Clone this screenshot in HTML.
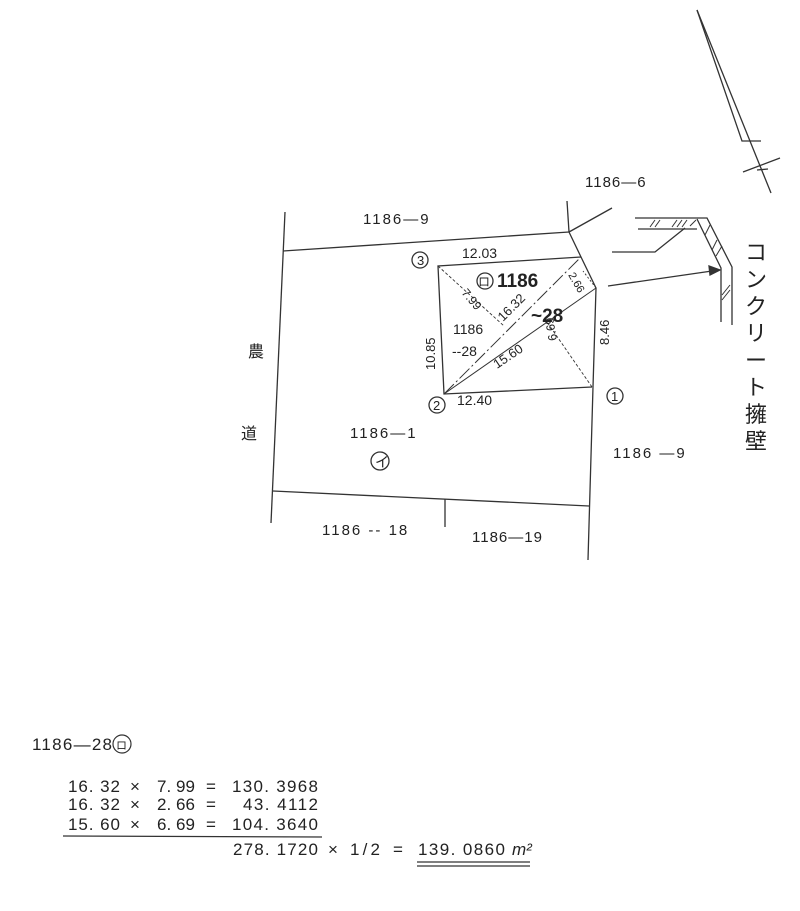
<!DOCTYPE html>
<html><head><meta charset="utf-8"><style>
html,body{margin:0;padding:0;background:#fff;width:800px;height:911px;overflow:hidden}
svg{display:block}
text{font-family:"Liberation Sans","Noto Sans CJK JP",sans-serif;fill:#222}
</style></head><body>
<svg width="800" height="911" viewBox="0 0 800 911" xmlns="http://www.w3.org/2000/svg">
<g stroke="#333" stroke-width="1.3" fill="none">
<line x1="697" y1="10" x2="771" y2="193"/>
<polyline points="697,10 742,141 761,141"/>
<line x1="743" y1="172" x2="780" y2="158"/>
<line x1="757" y1="170" x2="768" y2="169"/>
<line x1="283" y1="251" x2="569" y2="232"/>
<line x1="567" y1="201" x2="569" y2="232"/>
<line x1="569" y1="232" x2="612" y2="208"/>
<polyline points="569,232 581,257 596,288 593,387 588,560"/>
<line x1="285" y1="212" x2="271" y2="523"/>
<line x1="273" y1="491" x2="589" y2="506"/>
<line x1="445" y1="499" x2="445" y2="527"/>
<polyline points="581,257 438,266 444,394 592,387"/>
<line x1="444" y1="394" x2="581" y2="257" stroke-dasharray="14,3,2,3" stroke-width="1"/>
<line x1="444" y1="394" x2="596" y2="288" stroke-width="1"/>
<line x1="438" y1="266" x2="504" y2="326" stroke-dasharray="3,2" stroke-width="0.9"/>
<line x1="592" y1="387" x2="547" y2="322" stroke-dasharray="3,2" stroke-width="0.9"/>
<line x1="596" y1="288" x2="583" y2="271" stroke-dasharray="2,2" stroke-width="0.9"/>
<polyline points="635,218 707,218 732,267 732,325"/>
<polyline points="638,229 697,229"/>
<polyline points="697,219 721,268 721,322"/>
<polyline points="612,252 655,252 685,228"/>
<line x1="608" y1="286" x2="712" y2="271"/>
<polygon points="720,270 709,266 710,275" fill="#333"/>
<g stroke-width="1">
<line x1="650" y1="227" x2="655" y2="220"/><line x1="655" y1="227" x2="660" y2="220"/>
<line x1="672" y1="227" x2="677" y2="220"/><line x1="677" y1="227" x2="682" y2="220"/><line x1="682" y1="227" x2="687" y2="220"/>
<line x1="690" y1="226" x2="696" y2="220"/>
<line x1="705" y1="235" x2="710" y2="225"/><line x1="712" y1="250" x2="717" y2="240"/><line x1="716" y1="256" x2="722" y2="246"/>
<line x1="722" y1="295" x2="730" y2="285"/><line x1="722" y1="300" x2="730" y2="290"/>
</g>
<circle cx="420" cy="260" r="8"/>
<circle cx="437" cy="405" r="8"/>
<circle cx="615" cy="396" r="8"/>
<circle cx="485" cy="281" r="8"/>
<circle cx="380" cy="461" r="9"/>
</g>
<g font-size="15">
<text x="363" y="224" letter-spacing="2">1186—9</text>
<text x="585" y="187" letter-spacing="1">1186—6</text>
<text x="350" y="438" letter-spacing="2">1186—1</text>
<text x="322" y="535" letter-spacing="2">1186 -- 18</text>
<text x="472" y="542" letter-spacing="1">1186—19</text>
<text x="613" y="458" letter-spacing="2">1186 —9</text>
<text x="462" y="258" font-size="14">12.03</text>
<text x="457" y="405" font-size="14">12.40</text>
<text x="417" y="265" font-size="13">3</text>
<text x="433" y="410" font-size="13">2</text>
<text x="611" y="401" font-size="13">1</text>
<text x="375" y="467" font-size="14">イ</text>
<text x="478" y="286" font-size="12">ロ</text>
<text x="497" y="287" font-size="19" font-weight="bold" font-family="Liberation Serif">1186</text>
<text x="531" y="322" font-size="19" font-weight="bold" font-family="Liberation Serif">~28</text>
<text x="453" y="334" font-size="14">1186</text>
<text x="452" y="356" font-size="14">--28</text>
<text x="0" y="0" font-size="13" transform="translate(435,370) rotate(-90)">10.85</text>
<text x="0" y="0" font-size="13" transform="translate(609,345) rotate(-90)">8.46</text>
<text x="0" y="0" font-size="13" transform="translate(503,322) rotate(-45)">16.32</text>
<text x="0" y="0" font-size="13" transform="translate(497,369) rotate(-34)">15.60</text>
<text x="0" y="0" font-size="12" transform="translate(461,293) rotate(50)">7.99</text>
<text x="0" y="0" font-size="12" transform="translate(557,340) rotate(-100)">6.69</text>
<text x="0" y="0" font-size="11" transform="translate(568,275) rotate(60)">2.66</text>
<text x="248" y="357" font-size="16">農</text>
<text x="241" y="439" font-size="16">道</text>
</g>
<g font-size="22">
<text x="745" y="260">コ</text>
<text x="745" y="287">ン</text>
<text x="745" y="314">ク</text>
<text x="745" y="341">リ</text>
<text x="745" y="368">ー</text>
<text x="745" y="395">ト</text>
<text x="745" y="422">擁</text>
<text x="745" y="449">壁</text>
</g>
<g font-size="17">
<text x="32" y="750" textLength="80" lengthAdjust="spacing">1186—28</text>
<circle cx="122" cy="744" r="9" fill="none" stroke="#333" stroke-width="1.2"/>
<text x="116" y="749" font-size="11">ロ</text>

<text x="68" y="792" textLength="52" lengthAdjust="spacing">16. 32</text>
<text x="130" y="792">×</text>
<text x="157" y="792" textLength="38" lengthAdjust="spacing">7. 99</text>
<text x="206" y="792">=</text>
<text x="232" y="792" textLength="86" lengthAdjust="spacing">130. 3968</text>

<text x="68" y="810" textLength="52" lengthAdjust="spacing">16. 32</text>
<text x="130" y="810">×</text>
<text x="157" y="810" textLength="38" lengthAdjust="spacing">2. 66</text>
<text x="206" y="810">=</text>
<text x="243" y="810" textLength="75" lengthAdjust="spacing">43. 4112</text>

<text x="68" y="830" textLength="52" lengthAdjust="spacing">15. 60</text>
<text x="130" y="830">×</text>
<text x="157" y="830" textLength="38" lengthAdjust="spacing">6. 69</text>
<text x="206" y="830">=</text>
<text x="232" y="830" textLength="86" lengthAdjust="spacing">104. 3640</text>

<text x="233" y="855" textLength="85" lengthAdjust="spacing">278. 1720</text>
<text x="328" y="855">×</text>
<text x="350" y="855" textLength="30" lengthAdjust="spacing">1/2</text>
<text x="393" y="855">=</text>
<text x="418" y="855" textLength="87" lengthAdjust="spacing">139. 0860</text>
<text x="512" y="855" font-style="italic" font-family="Liberation Serif">m²</text>
</g>
<g stroke="#333" stroke-width="1.3">
<line x1="63" y1="836" x2="322" y2="837"/>
<line x1="417" y1="862" x2="530" y2="862"/><line x1="417" y1="866" x2="530" y2="866"/>
</g>
</svg>
</body></html>
